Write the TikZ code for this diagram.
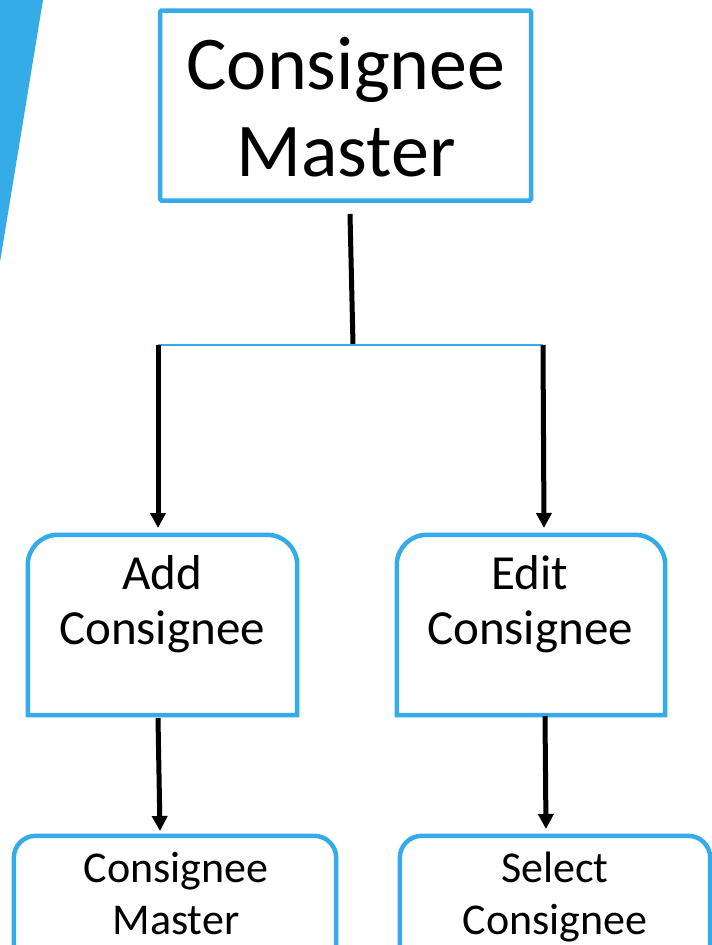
\documentclass[tikz,border=0pt]{standalone}
\usepackage{fontspec}
\setmainfont{Carlito}
\usetikzlibrary{arrows.meta,calc}
\definecolor{skyb}{HTML}{35ACE8}
\tikzset{
  box/.style={draw=skyb,line width=4.5pt,rounded corners=1.5pt,inner sep=0pt},
  holder/.style={draw=none,inner sep=0pt},
  edge/.style={draw=skyb,line width=4.5pt},
  lbl/.style={inner sep=0pt,align=center,anchor=north,text=black},
  conn/.style={black,line width=5pt},
  arr/.style={black,line width=5pt,-{Triangle[width=15pt,length=15pt]}},
}
\begin{document}
\begin{tikzpicture}[x=1pt,y=-1pt]
\useasboundingbox (0,0) rectangle (712,945);
\clip (0,0) rectangle (712,945);
\fill[white] (0,0) rectangle (712,945);
% blue stripe
\fill[skyb] (0,0) -- (43,0) -- (0,262) -- cycle;

% top box
\node[box,minimum width=371pt,minimum height=190pt] (top) at (345.5,105.5) {};
\node[lbl,font=\fontsize{76}{87}\selectfont] (toplbl) at (346,37) {Consignee\\Master};

% middle boxes (rounded top corners)
\node[holder,minimum width=269pt,minimum height=180pt] (add) at (162.5,625) {};
\draw[edge] (add.south west) [rounded corners=30pt] -- (add.north west) -- (add.north east) [sharp corners] -- (add.south east) -- cycle;
\node[lbl,font=\fontsize{49}{55}\selectfont] (addlbl) at (162,555) {Add\\Consignee};

\node[holder,minimum width=268pt,minimum height=180pt] (edit) at (531,625) {};
\draw[edge] (edit.south west) [rounded corners=30pt] -- (edit.north west) -- (edit.north east) [sharp corners] -- (edit.south east) -- cycle;
\node[lbl,font=\fontsize{49}{55}\selectfont] (editlbl) at (530,555) {Edit\\Consignee};

% bottom boxes
\node[holder,minimum width=322pt,minimum height=130pt] (cm) at (175,901) {};
\draw[edge] (cm.south west) [rounded corners=22pt] -- (cm.north west) -- (cm.north east) [sharp corners] -- (cm.south east);
\node[lbl,font=\fontsize{44}{52}\selectfont] (cmlbl) at (176,852) {Consignee\\Master};

\node[holder,minimum width=310pt,minimum height=130pt] (sel) at (555,901) {};
\draw[edge] (sel.south west) [rounded corners=22pt] -- (sel.north west) -- (sel.north east) [sharp corners] -- (sel.south east);
\node[lbl,font=\fontsize{44}{52}\selectfont] (sellbl) at (555,852) {Select\\Consignee};

% connectors
\coordinate (t1) at (350,214);
\coordinate (j) at (353,345);
\coordinate (jl) at (158,345);
\coordinate (jr) at (543,345);
\draw[conn] (t1) -- (j);
\draw[skyb,line width=2.2pt] (jl) -- (jr);
\draw[arr] (jl) -- (158,528);
\draw[arr] (jr) -- (544,528);
\draw[arr] (158,718) -- (160,831);
\draw[arr] (545,716) -- (546,829);
\end{tikzpicture}
\end{document}
